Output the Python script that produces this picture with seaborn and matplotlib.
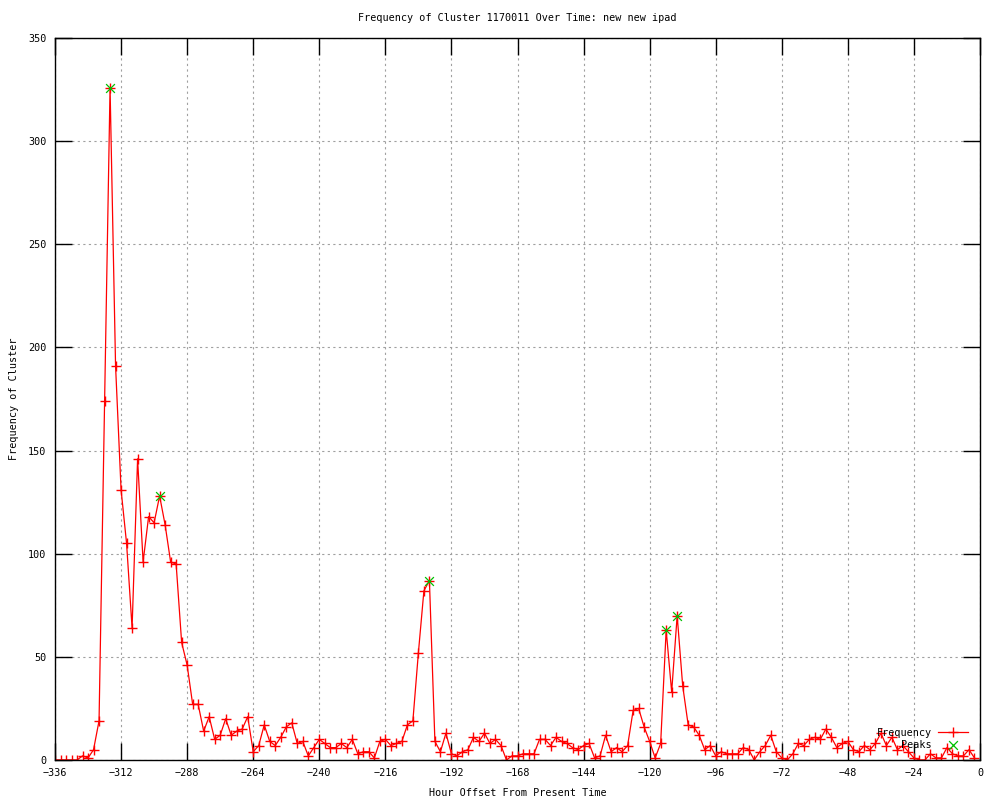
import matplotlib
matplotlib.use('Agg')
import matplotlib.pyplot as plt
import seaborn as sns
import pandas as pd

# hour offsets, one reading every 2 hours
hours = list(range(-336, 0, 2))

frequency = [
    0, 0, 0, 0, 0, 2, 1, 5, 19, 174,            # -336 .. -318
    326, 191, 131, 105, 64, 146, 96, 118, 115, 128,  # -316 .. -298
    114, 96, 95, 57, 46, 27, 27, 14, 21, 10,     # -296 .. -278
    12, 20, 12, 14, 15, 21, 4, 7, 17, 9,         # -276 .. -258
    7, 11, 16, 18, 8, 9, 2, 6, 10, 8,            # -256 .. -238
    6, 6, 8, 6, 10, 3, 4, 4, 1, 9,               # -236 .. -218
    10, 7, 8, 9, 17, 19, 52, 82, 87, 9,          # -216 .. -198
    4, 13, 3, 2, 4, 5, 11, 9, 13, 8,             # -196 .. -178
    10, 7, 0, 2, 2, 3, 3, 3, 10, 10,             # -176 .. -158
    7, 11, 9, 8, 6, 5, 7, 8, 1, 2,               # -156 .. -138
    12, 4, 6, 4, 7, 24, 25, 16, 9, 1,            # -136 .. -118
    8, 63, 33, 70, 36, 17, 16, 12, 5, 7,         # -116 .. -98
    2, 4, 3, 3, 3, 6, 5, 0, 4, 7,                # -96 .. -78
    12, 4, 1, 0, 3, 8, 7, 10, 11, 10,            # -76 .. -58
    15, 11, 6, 8, 9, 5, 4, 7, 5, 8,              # -56 .. -38
    13, 7, 11, 5, 7, 4, 1, 0, 0, 3,              # -36 .. -18
    1, 1, 6, 3, 2, 2, 5, 1,                      # -16 .. -2
]

peak_hours = [-316, -298, -200, -114, -110]
peak_values = [326, 128, 87, 63, 70]

x_ticks = list(range(-336, 1, 24))
y_ticks = list(range(0, 351, 50))

df = pd.DataFrame({'hour': hours, 'freq': frequency})
peaks = pd.DataFrame({'hour': peak_hours, 'freq': peak_values})

plt.rcParams['font.family'] = ['DejaVu Sans Mono']
plt.rcParams['font.size'] = 7.3

fig = plt.figure(figsize=(10, 8), dpi=100)
ax = fig.add_axes([0.055, 0.05, 0.925, 0.9025])

sns.lineplot(data=df, x='hour', y='freq', ax=ax, color='red', linewidth=0.9,
             marker='+', markersize=7, markeredgewidth=1.0,
             markeredgecolor='red', label='Frequency')
sns.scatterplot(data=peaks, x='hour', y='freq', ax=ax, color='#00c000',
                marker='x', s=40, linewidth=0.9, label='Peaks', zorder=5)

ax.set_xlim(-336, 0)
ax.set_ylim(0, 350)
ax.set_xticks(x_ticks)
ax.set_yticks(y_ticks)
ax.grid(True, color='#a0a0a0', linestyle=(0, (2, 3)), linewidth=0.8)
ax.set_axisbelow(True)
ax.tick_params(direction='in', length=12, width=1, top=True, right=True,
               labelsize=7.3, pad=6)
for s in ax.spines.values():
    s.set_linewidth(1)

ax.set_title('Frequency of Cluster 1170011 Over Time: new new ipad', fontsize=7.3, pad=12)
ax.set_xlabel('Hour Offset From Present Time', fontsize=7.3, labelpad=7)
ax.set_ylabel('Frequency of Cluster', fontsize=7.3, labelpad=7)

leg = ax.legend(loc='lower right', bbox_to_anchor=(0.995, 0.004), frameon=False,
                markerfirst=False, numpoints=1, scatterpoints=1, handlelength=3.0,
                labelspacing=0.2, handletextpad=0.6, borderpad=0.2, fontsize=7.3)

fig.savefig('out.png', dpi=100)
